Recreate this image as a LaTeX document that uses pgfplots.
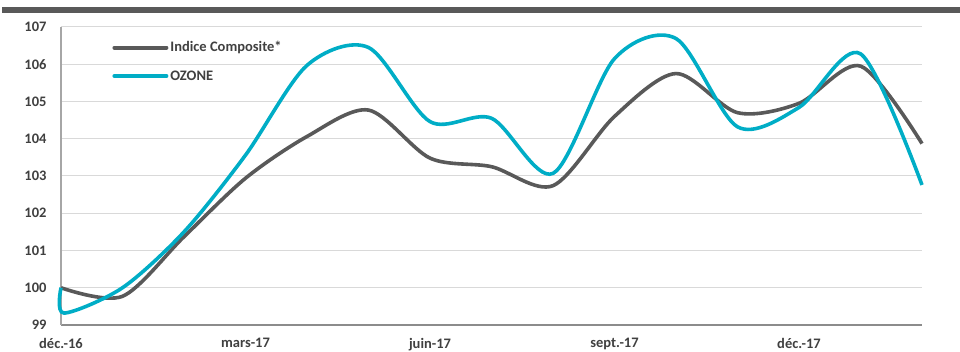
\documentclass[border=0pt]{standalone}
\usepackage{fontspec}
\setmainfont{Carlito}
\usepackage{pgfplots}
\pgfplotsset{compat=1.18}
\definecolor{compgray}{HTML}{595959}
\definecolor{ozteal}{HTML}{00ADC6}
\definecolor{gridgray}{HTML}{D9D9D9}
\definecolor{axgray}{HTML}{A6A6A6}
\definecolor{axgrayd}{HTML}{8C8C8C}
\definecolor{txtgray}{HTML}{404040}
\begin{document}
\begin{tikzpicture}[x=1pt,y=1pt]
\path[use as bounding box] (0,0) rectangle (960,352);
\fill[compgray] (2,339.3) rectangle (960,344.7);
\begin{axis}[
  at={(61pt,27pt)}, anchor=south west,
  scale only axis, width=861pt, height=298pt,
  xmin=0, xmax=14, ymin=99, ymax=107,
  clip=false,
  xtick={0,3,6,9,12},
  xticklabels={déc.-16,mars-17,juin-17,sept.-17,déc.-17},
  ytick={99,100,...,107},
  ymajorgrids, grid style={gridgray, line width=1pt},
  axis x line*=bottom, axis y line*=left,
  x axis line style={draw=axgrayd, line width=1.2pt, -},
  y axis line style={draw=axgray, line width=1.2pt, -},
  major tick length=0pt, tick style={draw=none},
  /pgf/number format/assume math mode=true,
  tick label style={font=\fontsize{14.5}{16}\selectfont\bfseries, text=txtgray},
  yticklabel style={xshift=-11pt},
  xticklabel style={yshift=-10pt},
  legend cell align=left,
  legend style={at={(0.056,0.965)}, anchor=north west, draw=none, fill=none,
    font=\fontsize{14.5}{16}\selectfont\bfseries, text=txtgray, row sep=13pt},
  legend image code/.code={\draw[#1, line width=4pt, line cap=round] (0pt,0pt) -- (52pt,0pt);},
]
\addplot[compgray, line width=3.6pt, smooth] coordinates {
(0,100.0) (1,99.77) (2,101.37) (3,102.94) (4,104.06) (5,104.77) (6,103.48) (7,103.25)
(8,102.74) (9,104.6) (10,105.75) (11,104.7) (12,104.95) (13,105.95) (14,103.87)};
\addlegendentry{Indice Composite*}
\addplot[ozteal, line width=3.6pt, smooth] coordinates {
(0,100.0) (0.05,99.32) (1,100.0) (2,101.5) (3,103.56) (4,105.97) (5,106.45) (6,104.46) (7,104.55)
(8,103.07) (9,106.15) (10,106.69) (11,104.32) (12,104.84) (13,106.28) (14,102.76)};
\addlegendentry{OZONE}
\end{axis}
\end{tikzpicture}
\end{document}
